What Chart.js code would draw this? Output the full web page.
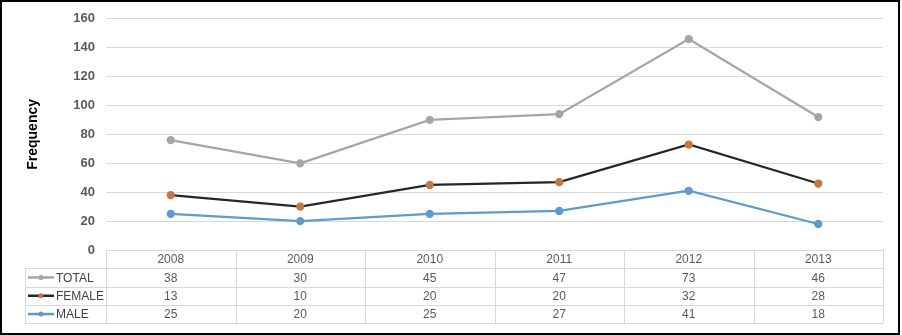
<!DOCTYPE html>
<html>
<head>
<meta charset="utf-8">
<script src="https://cdn.jsdelivr.net/npm/chart.js@4.4.1/dist/chart.umd.min.js"></script>
<style>
  html, body { margin: 0; padding: 0; background: #fff; }
  #wrap { position: relative; width: 902px; height: 335px; }
</style>
</head>
<body>
<div id="wrap"><canvas id="freq-chart"></canvas></div>
<script>
const years = ['2008', '2009', '2010', '2011', '2012', '2013'];
const maleCounts = [25, 20, 25, 27, 41, 18];
const femaleCounts = [13, 10, 20, 20, 32, 28];
const totalCounts = [38, 30, 45, 47, 73, 46];
const yMin = 0;
const yMax = 160;
const yStep = 20;

const FONT = "'Liberation Sans', Arial, sans-serif";
const TEXT_GREY = '#595959';

const series = [
    { label: 'TOTAL', data: totalCounts, line: '#a5a5a5', dot: '#a5a5a5' },
    { label: 'FEMALE', data: femaleCounts, line: '#262626', dot: '#c4773f' },
    { label: 'MALE', data: maleCounts, line: '#5b9bd5', dot: '#5b9bd5' },
];

// data table under the plot, plus the frame round the whole picture
const dataTable = {
    id: 'dataTable',
    afterDraw(chart) {
        const { ctx, chartArea } = chart;
        const x = chart.scales.x;
        const colW = (chartArea.right - chartArea.left) / years.length;
        const top = chartArea.bottom;
        const rowH = 18.3;
        const labelLeft = 25;

        ctx.save();
        ctx.strokeStyle = '#d9d9d9';
        ctx.lineWidth = 1;
        ctx.beginPath();
        // header row
        ctx.moveTo(chartArea.left, top + 0.5);
        ctx.lineTo(chartArea.right, top + 0.5);
        for (let r = 1; r <= series.length + 1; r++) {
            const y = Math.round(top + r * rowH) + 0.5;
            ctx.moveTo(labelLeft, y);
            ctx.lineTo(chartArea.right, y);
        }
        const bottom = Math.round(top + (series.length + 1) * rowH) + 0.5;
        ctx.moveTo(labelLeft + 0.5, Math.round(top + rowH));
        ctx.lineTo(labelLeft + 0.5, bottom);
        for (let i = 0; i <= years.length; i++) {
            const xx = Math.round(chartArea.left + i * colW) + 0.5;
            ctx.moveTo(xx, top);
            ctx.lineTo(xx, bottom);
        }
        ctx.stroke();

        ctx.font = '12px ' + FONT;
        ctx.fillStyle = TEXT_GREY;
        ctx.textAlign = 'center';
        ctx.textBaseline = 'middle';
        years.forEach((yr, i) => {
            ctx.fillText(yr, x.getPixelForValue(i), top + rowH / 2 + 1);
        });

        series.forEach((s, r) => {
            const cy = top + (r + 1.5) * rowH + 1;
            ctx.fillStyle = TEXT_GREY;
            ctx.textAlign = 'center';
            s.data.forEach((v, i) => {
                ctx.fillText(String(v), x.getPixelForValue(i), cy);
            });
            // legend key
            ctx.strokeStyle = s.line;
            ctx.lineWidth = 2.5;
            ctx.beginPath();
            ctx.moveTo(labelLeft + 3, cy - 1);
            ctx.lineTo(labelLeft + 29, cy - 1);
            ctx.stroke();
            ctx.fillStyle = s.dot;
            ctx.beginPath();
            ctx.arc(labelLeft + 16, cy - 1, 2.5, 0, Math.PI * 2);
            ctx.fill();
            ctx.fillStyle = '#404040';
            ctx.textAlign = 'left';
            ctx.fillText(s.label, labelLeft + 31, cy);
        });

        ctx.strokeStyle = '#000';
        ctx.lineWidth = 2;
        ctx.strokeRect(1, 1, chart.width - 4, chart.height - 2);
        ctx.restore();
    },
};

const ds = (s) => ({
    label: s.label,
    data: s.data,
    borderColor: s.line,
    backgroundColor: s.dot,
    pointBackgroundColor: s.dot,
    pointBorderColor: s.dot,
    pointRadius: 3,
    borderWidth: 2.25,
    fill: false,
    tension: 0,
});

new Chart(document.getElementById('freq-chart'), {
    type: 'line',
    data: {
        labels: years,
        // stacked from the bottom: MALE, then FEMALE, then TOTAL
        datasets: [ds(series[2]), ds(series[1]), ds(series[0])],
    },
    options: {
        responsive: true,
        maintainAspectRatio: false,
        animation: false,
        layout: { padding: { left: 20, right: 19, top: 16, bottom: 85 } },
        plugins: {
            legend: { display: false },
            tooltip: { enabled: false },
        },
        scales: {
            x: {
                display: false,
                offset: true,
            },
            y: {
                stacked: true,
                min: yMin,
                max: yMax,
                border: { display: false },
                grid: { color: '#d9d9d9', drawTicks: false },
                ticks: {
                    stepSize: yStep,
                    padding: 11,
                    color: TEXT_GREY,
                    font: { family: FONT, size: 13, weight: 'bold' },
                },
                title: {
                    display: true,
                    text: 'Frequency',
                    color: '#000',
                    padding: { top: 5, bottom: 0 },
                    font: { family: FONT, size: 14, weight: 'bold' },
                },
                afterFit(scale) {
                    scale.width = 86;
                },
            },
        },
    },
    plugins: [dataTable],
});
</script>
</body>
</html>
